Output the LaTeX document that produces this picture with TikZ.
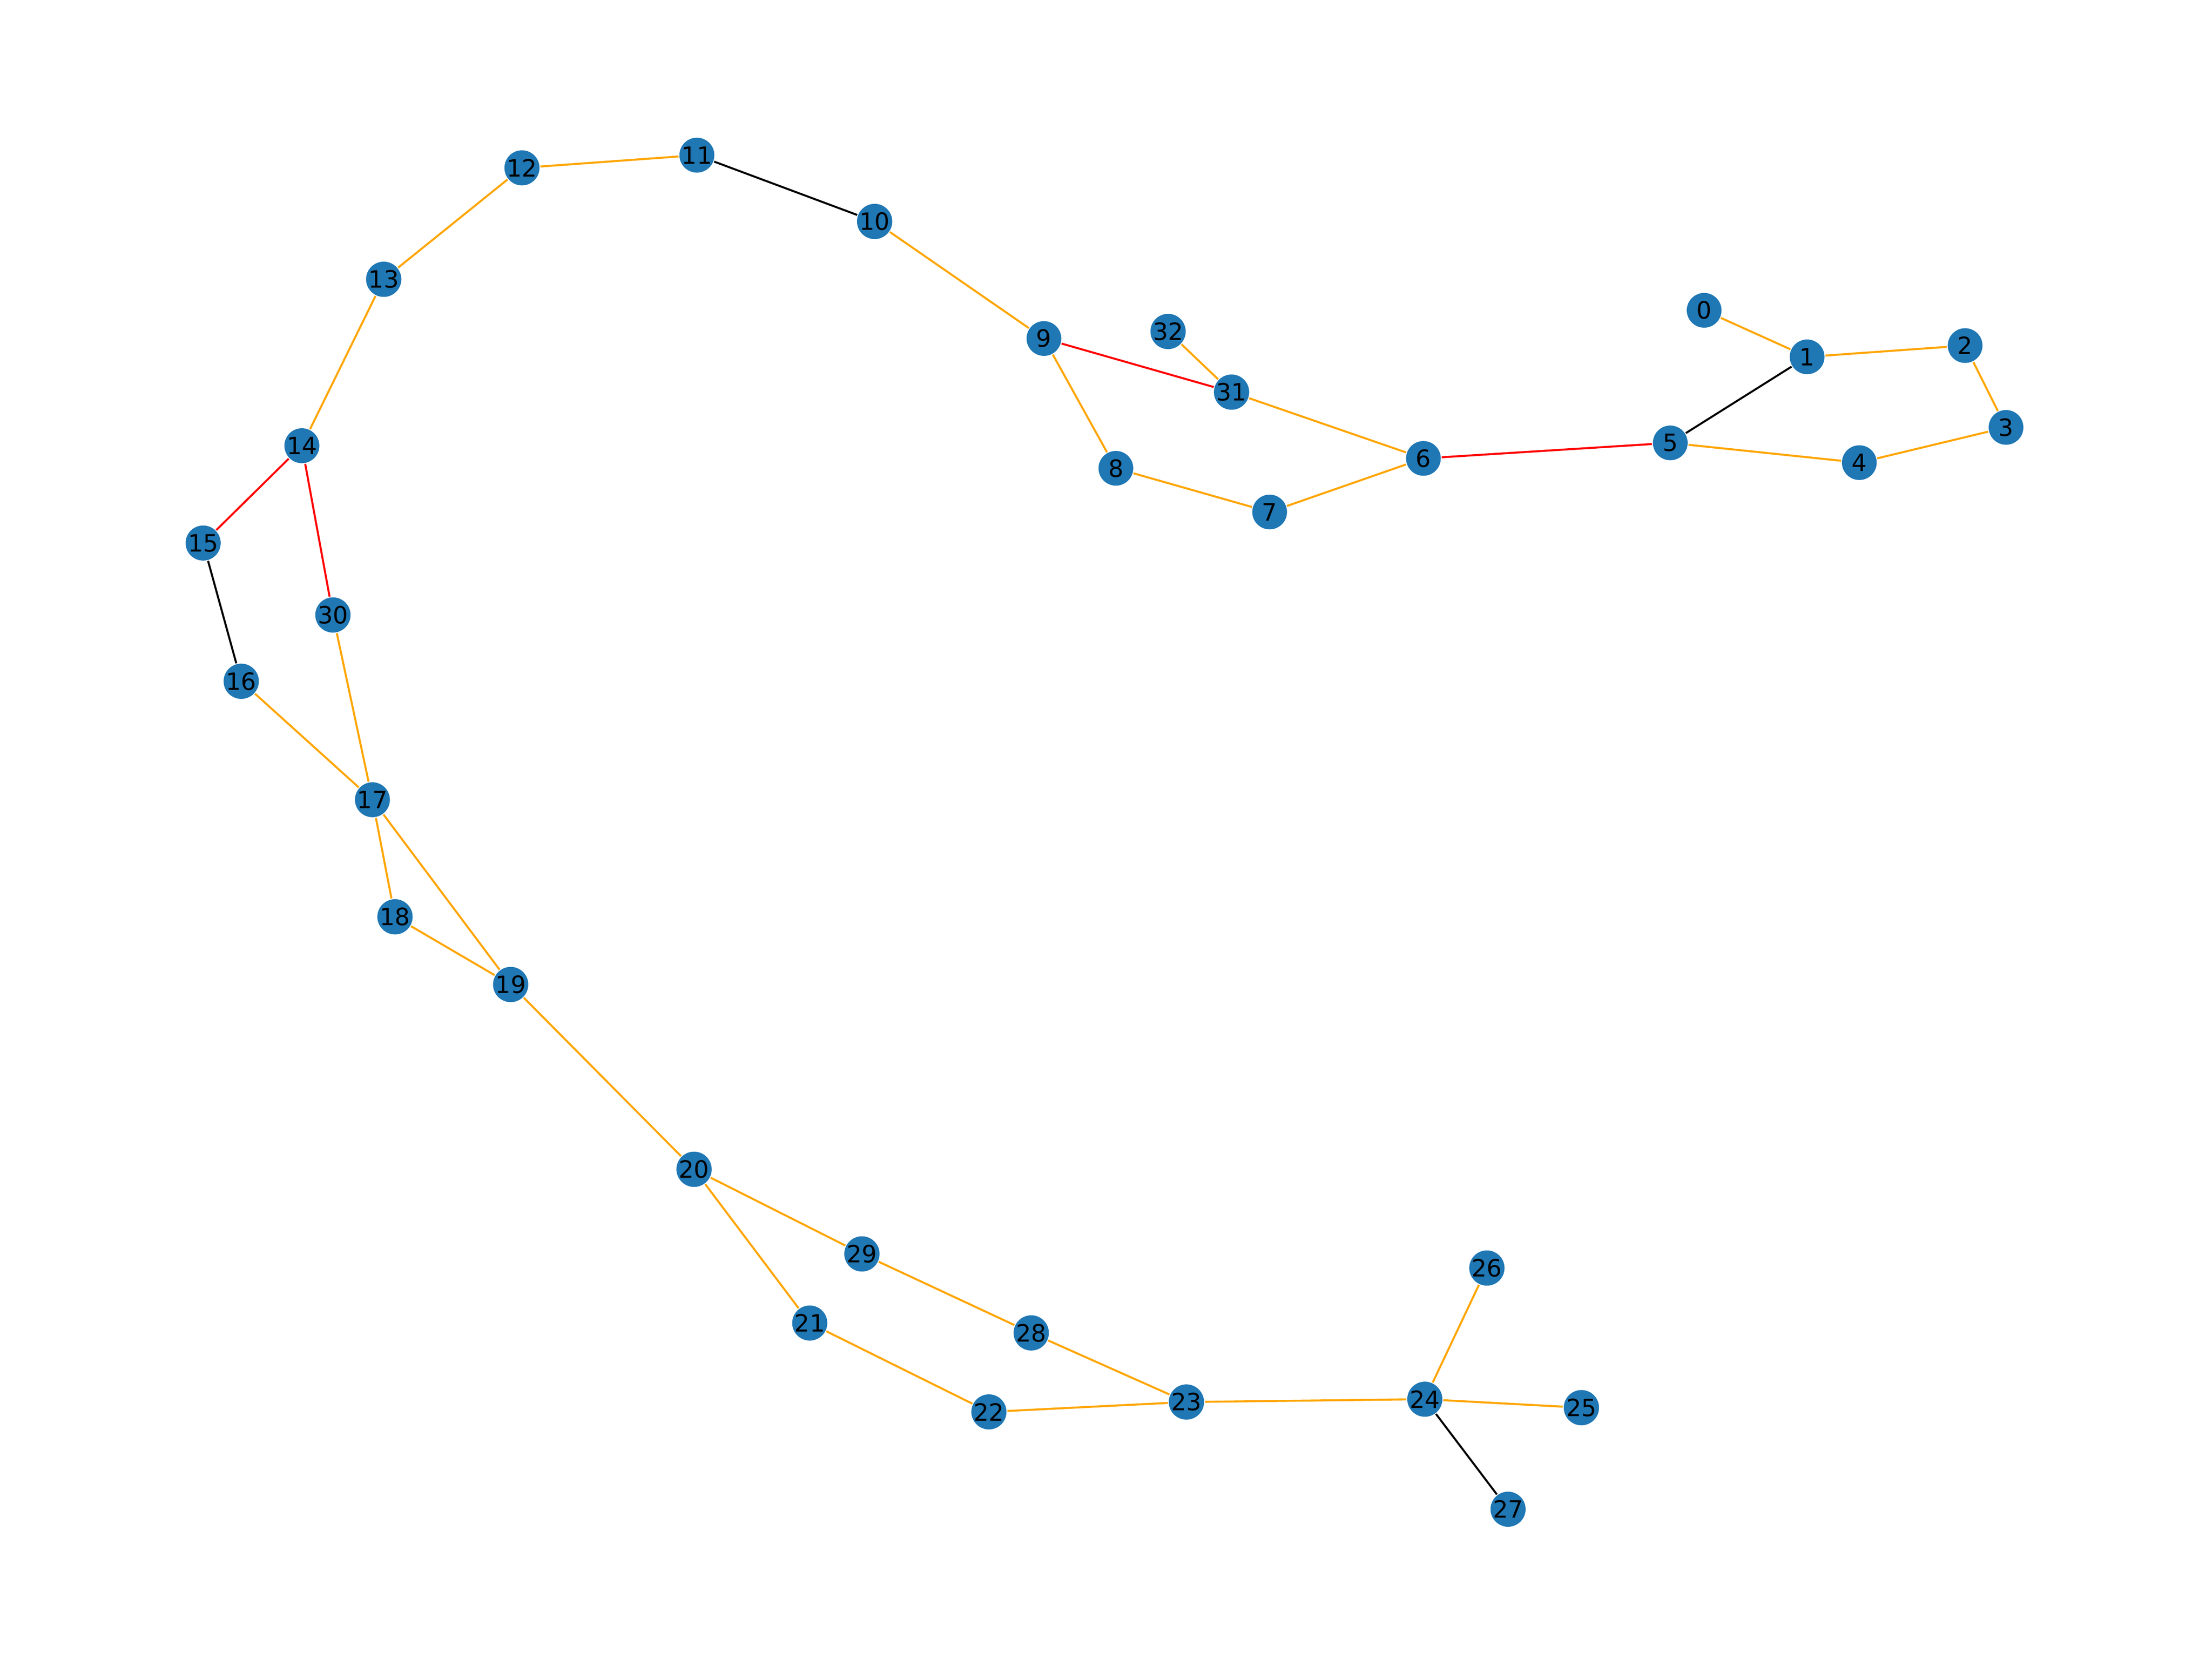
\documentclass[tikz,border=0pt]{standalone}
\usepackage{fontspec}
\setmainfont{DejaVu Sans}
\usepackage{tikz}
\usepackage{xcolor}
\definecolor{nodeblue}{HTML}{1F77B4}
\definecolor{edgeorange}{HTML}{FFA500}

\tikzset{
    vertex/.style={circle, fill=nodeblue, minimum size=7pt, inner sep=0pt, font=\fontsize{4.8}{5}\selectfont},
    link/.style={line width=0.4pt}
}

\begin{document}
\begin{tikzpicture}[x=0.01cm, y=-0.01cm]
        \useasboundingbox (0,0) rectangle (1568,1181);
        \foreach \n/\x/\y in {0/1208/220, 1/1281/253, 2/1393/245, 3/1422/303, 4/1318/328,
                5/1184/314, 6/1009/325, 7/900/363, 8/791/332, 9/740/240,
                10/620/157, 11/494/110, 12/370/119, 13/272/198, 14/214/316,
                15/144/385, 16/171/483, 17/264/567, 18/280/650, 19/362/698,
                20/492/829, 21/574/938, 22/701/1001, 23/841/994, 24/1010/992,
                25/1121/998, 26/1054/899, 27/1069/1070, 28/731/945, 29/611/889,
                30/236/436, 31/873/278, 32/828/235} {
            \node[vertex] (n\n) at (\x,\y) {\n};
        }
        \foreach \a/\b in {0/1, 1/2, 2/3, 3/4, 4/5, 6/7, 7/8, 8/9, 6/31, 31/32, 9/10,
                11/12, 12/13, 13/14, 16/17, 30/17, 17/18, 17/19, 18/19, 19/20,
                20/21, 20/29, 29/28, 28/23, 21/22, 22/23, 23/24, 24/26, 24/25} {
            \draw[link, edgeorange] (n\a) -- (n\b);
        }
        \foreach \a/\b in {5/6, 9/31, 14/15, 14/30} {
            \draw[link, red] (n\a) -- (n\b);
        }
        \foreach \a/\b in {1/5, 10/11, 15/16, 24/27} {
            \draw[link, black] (n\a) -- (n\b);
        }
    \end{tikzpicture}
\end{document}
